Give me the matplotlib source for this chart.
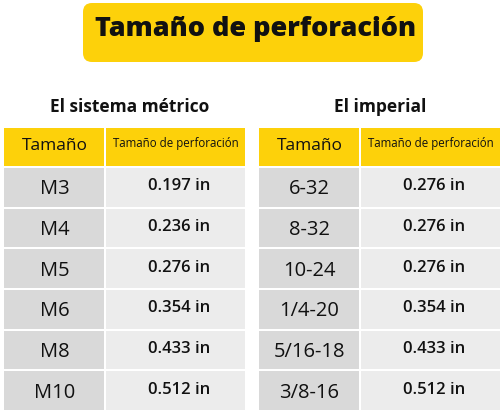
import matplotlib.pyplot as plt
from matplotlib.patches import Rectangle, FancyBboxPatch

title = "Tamaño de perforación"
left_heading = "El sistema métrico"
right_heading = "El imperial"
col_headers = ["Tamaño", "Tamaño de perforación"]
metric_sizes = ["M3", "M4", "M5", "M6", "M8", "M10"]
metric_drill = ["0.197 in", "0.236 in", "0.276 in", "0.354 in", "0.433 in", "0.512 in"]
imperial_sizes = ["6-32", "8-32", "10-24", "1/4-20", "5/16-18", "3/8-16"]
imperial_drill = ["0.276 in", "0.276 in", "0.276 in", "0.354 in", "0.433 in", "0.512 in"]

YELLOW = "#fdd10a"
GRAY1 = "#d9d9d9"
GRAY2 = "#ececec"
FONT = "Open Sans"

fig = plt.figure(figsize=(5, 4.12), dpi=100)
ax = fig.add_axes([0, 0, 1, 1])
ax.set_xlim(0, 500)
ax.set_ylim(412, 0)
ax.axis("off")

# title banner
ax.add_patch(FancyBboxPatch((83, 3), 340, 59, boxstyle="round,pad=0,rounding_size=9",
                            facecolor=YELLOW, edgecolor="none"))
ax.text(256, 29, title, ha="center", va="center", fontsize=19.5,
        fontweight="heavy", family=FONT, color="#111111")


def draw_table(x0, heading, sizes, drills, hx):
    w1, w2 = 101, 140
    ax.text(hx, 107, heading, ha="center", va="center",
            fontsize=12.5, fontweight="bold", family=FONT, color="#111111")
    # header
    ax.add_patch(Rectangle((x0, 128), w1 - 1, 38, facecolor=YELLOW, edgecolor="none"))
    ax.add_patch(Rectangle((x0 + w1 + 1, 128), w2 - 1, 38, facecolor=YELLOW, edgecolor="none"))
    ax.text(x0 + w1 / 2, 146, col_headers[0], ha="center", va="center",
            fontsize=12.5, family=FONT, color="#111111")
    ax.text(x0 + w1 + 1 + w2 / 2, 143, col_headers[1], ha="center", va="center",
            fontsize=8.3, family=FONT, color="#111111")
    y = 168
    h = 40.7
    for s, d in zip(sizes, drills):
        ax.add_patch(Rectangle((x0, y), w1 - 1, h - 2, facecolor=GRAY1, edgecolor="none"))
        ax.add_patch(Rectangle((x0 + w1 + 1, y), w2 - 1, h - 2, facecolor=GRAY2, edgecolor="none"))
        ax.text(x0 + w1 / 2, y + h / 2 + 1, s, ha="center", va="center",
                fontsize=14.5, family=FONT, color="#111111")
        ax.text(x0 + w1 + 1 + w2 / 2 + 3, y + h / 2 - 2, d, ha="center", va="center",
                fontsize=12, family=FONT, fontweight="semibold", color="#111111")
        y += h


draw_table(4, left_heading, metric_sizes, metric_drill, 130)
draw_table(259, right_heading, imperial_sizes, imperial_drill, 380)

fig.savefig("out.png", dpi=100)
